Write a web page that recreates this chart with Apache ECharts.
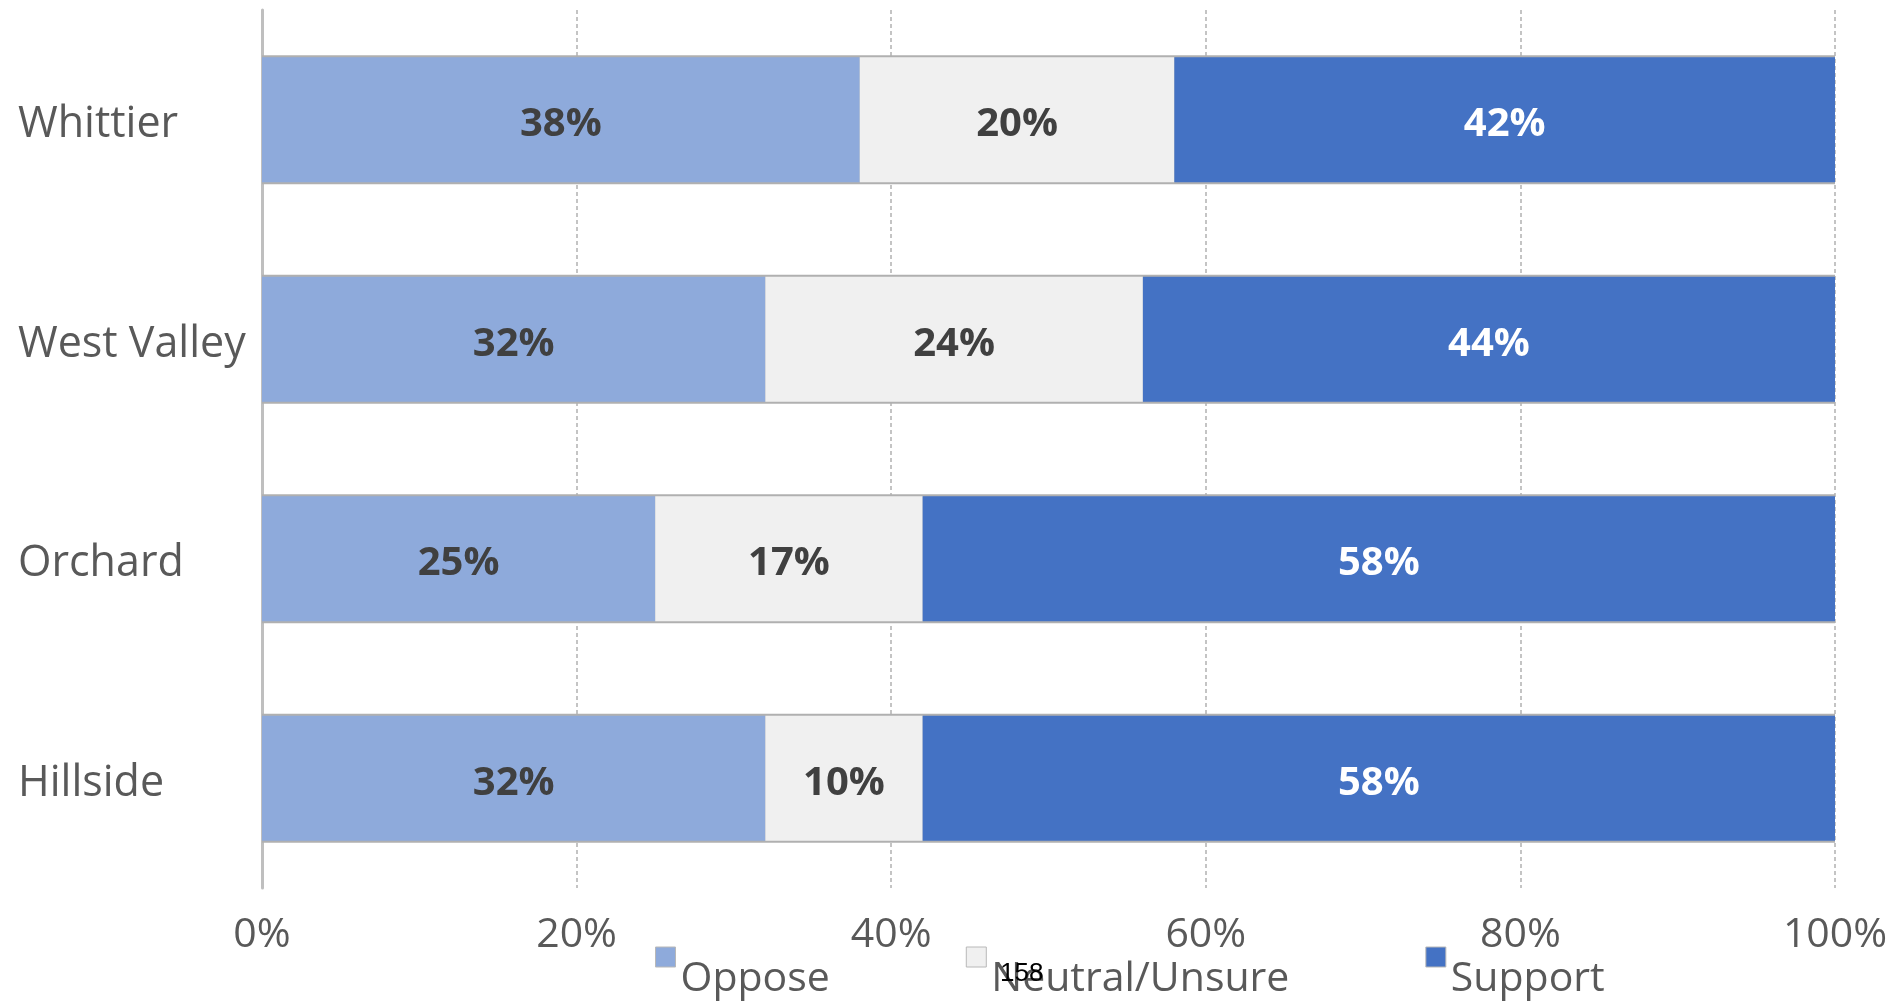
<!DOCTYPE html>
<html>
<head>
<meta charset="utf-8">
<script src="https://cdn.jsdelivr.net/npm/echarts@6/dist/echarts.min.js"></script>
<style>
    html, body { margin: 0; padding: 0; background: #fff; }
    #chart { width: 1898px; height: 1004px; }
</style>
</head>
<body>
<div id="chart"></div>
<script>
// 各区域态度占比
const areas = ['Whittier', 'West Valley', 'Orchard', 'Hillside'];
const oppose = [38, 32, 25, 32];
const neutral = [20, 24, 17, 10];
const support = [42, 44, 58, 58];
const totals = [100, 100, 100, 100];
const xTicks = [0, 20, 40, 60, 80, 100];

const font = '"Open Sans", "Noto Sans", sans-serif';

let echart = echarts.init(document.getElementById('chart'));

function segment(name, data, color, labelColor) {
    return {
        name: name,
        type: 'bar',
        stack: 'total',
        barWidth: 125,
        z: 3,
        data: data,
        itemStyle: { color: color },
        label: {
            show: true,
            position: 'inside',
            formatter: '{c}%',
            color: labelColor,
            fontFamily: font,
            fontWeight: 'bold',
            fontSize: 40,
            offset: [0, 5]
        }
    };
}

const option = {
    animation: false,
    grid: {
        left: 262,
        right: 63,
        top: 10,
        bottom: 116
    },
    legend: {
        data: ['Oppose', 'Neutral/Unsure', 'Support'],
        left: 650,
        top: 908,
        itemWidth: 20,
        itemHeight: 20,
        itemGap: 136,
        icon: 'rect',
        itemStyle: { borderColor: '#b8b8b8', borderWidth: 1 },
        formatter: '\n{name}',
        textStyle: {
            color: '#595959',
            fontFamily: font,
            fontSize: 41,
            lineHeight: 44
        }
    },
    xAxis: {
        type: 'value',
        min: 0,
        max: 100,
        interval: 20,
        axisLine: { show: false },
        axisTick: { show: false },
        axisLabel: {
            color: '#595959',
            fontFamily: font,
            fontSize: 41,
            margin: 27,
            formatter: function (v) {
                return xTicks.indexOf(v) >= 0 ? v + '%' : '';
            }
        },
        splitLine: {
            show: true,
            lineStyle: { color: '#c4c4c4', width: 2, type: [4, 3] }
        }
    },
    yAxis: [
        {
            type: 'category',
            inverse: true,
            data: areas,
            axisLine: { show: true, lineStyle: { color: '#bfbfbf', width: 3 } },
            axisTick: { show: false },
            axisLabel: {
                color: '#595959',
                fontFamily: font,
                fontSize: 43,
                align: 'left',
                margin: 244,
                verticalAlign: 'top',
                lineHeight: 10
            }
        },
        {
            type: 'category',
            inverse: true,
            data: areas,
            show: false
        }
    ],
    series: [
        {
            name: 'frame',
            type: 'bar',
            yAxisIndex: 1,
            barWidth: 129,
            z: 2,
            silent: true,
            data: totals,
            itemStyle: { color: '#b0b0b0' }
        },
        segment('Oppose', oppose, '#8eaadb', '#404040'),
        segment('Neutral/Unsure', neutral, '#f0f0f0', '#404040'),
        segment('Support', support, '#4472c4', '#ffffff')
    ],
    graphic: [
        {
            type: 'text',
            left: 1000,
            top: 961,
            z: 100,
            style: {
                text: '158',
                fill: '#000',
                font: '26px "Liberation Sans", Arial, sans-serif'
            }
        }
    ]
};
echart.setOption(option);
</script>
</body>
</html>
